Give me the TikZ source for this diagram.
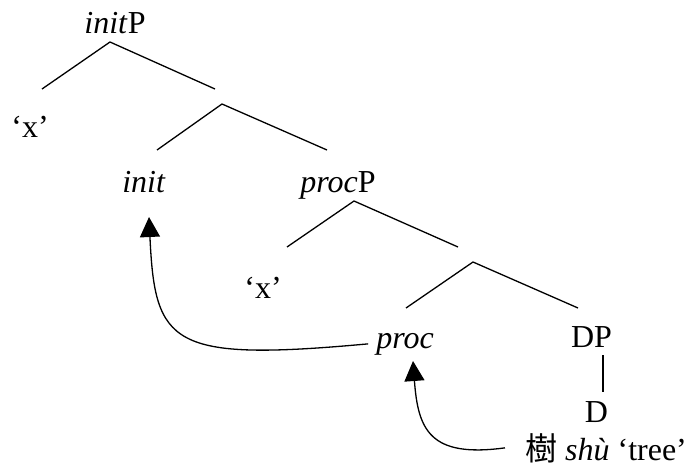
\documentclass[tikz,border=0pt]{standalone}
\usepackage{fontspec}
\setmainfont{Liberation Serif}
\newfontfamily\cjk{Noto Sans CJK TC}
\usetikzlibrary{arrows.meta}
\tikzset{
  lbl/.style={font=\fontsize{32}{38}\selectfont, inner sep=0pt, anchor=base},
  branch/.style={line width=1.3pt},
  movearrow/.style={line width=1.3pt, -{Triangle[width=20pt,length=20pt]}}
}
\begin{document}
\begin{tikzpicture}[x=1pt,y=-1pt]
            \useasboundingbox (0,0) rectangle (692,466);
            % labels
            \node[lbl] (initP) at (115,33) {\textit{init}P};
            \node[lbl] (x1) at (30,137) {‘x’};
            \node[lbl] (init) at (144,192) {\textit{init}};
            \node[lbl] (procP) at (338,192) {\textit{proc}P};
            \node[lbl] (x2) at (263,298) {‘x’};
            \node[lbl] (proc) at (405,348) {\textit{proc}};
            \node[lbl] (DP) at (591.5,347) {DP};
            \node[lbl] (D) at (596.5,422) {D};
            \node[lbl] (word) at (606,460) {{\cjk 樹} \textit{shù} ‘tree’};
            % branch points
            \coordinate (initP-b) at (110,42);
            \coordinate (x1-t) at (42,89);
            \coordinate (bar1-t) at (215,89);
            \coordinate (bar1-b) at (222,104);
            \coordinate (init-t) at (157,150);
            \coordinate (procP-t) at (327,150);
            \coordinate (procP-b) at (354,201);
            \coordinate (x2-t) at (287,247);
            \coordinate (bar2-t) at (458,247);
            \coordinate (bar2-b) at (473,262);
            \coordinate (proc-t) at (406,308);
            \coordinate (DP-t) at (578,308);
            \draw[branch] (x1-t) -- (initP-b) -- (bar1-t);
            \draw[branch] (init-t) -- (bar1-b) -- (procP-t);
            \draw[branch] (x2-t) -- (procP-b) -- (bar2-t);
            \draw[branch] (proc-t) -- (bar2-b) -- (DP-t);
            \draw[branch] ([xshift=11.5pt,yshift=-8pt]DP.base) -- ([xshift=6.5pt,yshift=30pt]D.base);
            % movement
            \draw[movearrow] ([xshift=-8pt]proc.west) .. controls (170,362) and (155,345) .. ([xshift=5pt,yshift=-25pt]init.base);
            \draw[movearrow] ([xshift=-20pt]word.west) .. controls (430,458) and (418,430) .. ([xshift=8pt,yshift=-13pt]proc.base);
        \end{tikzpicture}
\end{document}
